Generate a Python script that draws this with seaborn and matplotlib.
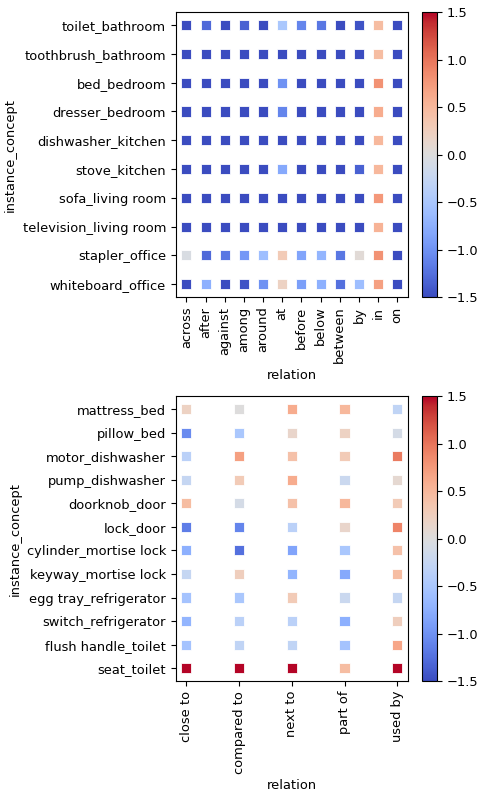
import numpy as np
import pandas as pd
import matplotlib
matplotlib.use("Agg")
import matplotlib.pyplot as plt
import seaborn as sns

plt.rcParams["font.size"] = 9.35

# top panel
rel_top = ["across", "after", "against", "among", "around", "at", "before",
           "below", "between", "by", "in", "on"]
inst_top = ["toilet_bathroom", "toothbrush_bathroom", "bed_bedroom", "dresser_bedroom",
            "dishwasher_kitchen", "stove_kitchen", "sofa_living room",
            "television_living room", "stapler_office", "whiteboard_office"]
toilet_bathroom = [-1.5, -1.3, -1.5, -1.35, -1.5, -0.5, -1.1, -1.2, -1.5, -1.45, 0.45, -1.5]
toothbrush_bathroom = [-1.5, -1.5, -1.5, -1.5, -1.5, -1.5, -1.5, -1.5, -1.5, -1.5, 0.45, -1.5]
bed_bedroom = [-1.5, -1.5, -1.5, -1.5, -1.5, -1.0, -1.5, -1.5, -1.5, -1.5, 0.8, -1.5]
dresser_bedroom = [-1.5, -1.5, -1.5, -1.5, -1.5, -1.1, -1.5, -1.5, -1.5, -1.5, 0.6, -1.5]
dishwasher_kitchen = [-1.5, -1.5, -1.5, -1.5, -1.5, -1.5, -1.5, -1.5, -1.5, -1.5, 0.5, -1.5]
stove_kitchen = [-1.5, -1.5, -1.5, -1.5, -1.5, -0.8, -1.5, -1.5, -1.5, -1.35, 0.5, -1.5]
sofa_living_room = [-1.5, -1.5, -1.5, -1.5, -1.5, -1.5, -1.5, -1.5, -1.5, -1.5, 0.75, -1.5]
television_living_room = [-1.5, -1.5, -1.5, -1.5, -1.5, -1.5, -1.5, -1.5, -1.5, -1.5, 0.55, -1.5]
stapler_office = [-0.05, -1.3, -1.2, -0.95, -0.6, 0.3, -0.85, -0.7, -1.2, 0.05, 0.8, -1.5]
whiteboard_office = [-1.5, -0.75, -1.5, -1.45, -1.0, 0.2, -0.9, -0.75, -1.25, -0.6, 0.7, -1.5]
vals_top = [toilet_bathroom, toothbrush_bathroom, bed_bedroom, dresser_bedroom,
            dishwasher_kitchen, stove_kitchen, sofa_living_room,
            television_living_room, stapler_office, whiteboard_office]

# bottom panel
rel_bot = ["close to", "compared to", "next to", "part of", "used by"]
inst_bot = ["mattress_bed", "pillow_bed", "motor_dishwasher", "pump_dishwasher",
            "doorknob_door", "lock_door", "cylinder_mortise lock", "keyway_mortise lock",
            "egg tray_refrigerator", "switch_refrigerator", "flush handle_toilet",
            "seat_toilet"]
mattress_bed = [0.2, 0.0, 0.6, 0.5, -0.3]
pillow_bed = [-1.05, -0.5, 0.15, 0.2, -0.1]
motor_dishwasher = [-0.35, 0.7, 0.4, 0.3, 0.95]
pump_dishwasher = [-0.25, 0.3, 0.6, -0.2, 0.1]
doorknob_door = [0.45, -0.1, 0.4, 0.5, 0.3]
lock_door = [-1.15, -1.1, -0.35, 0.15, 0.9]
cylinder_mortise_lock = [-0.75, -1.25, -0.85, -0.5, 0.4]
keyway_mortise_lock = [-0.25, 0.25, -0.7, -0.8, 0.45]
egg_tray_refrigerator = [-0.55, -0.5, 0.3, -0.2, -0.25]
switch_refrigerator = [-0.7, -0.35, -0.35, -0.75, 0.25]
flush_handle_toilet = [-0.55, -0.3, -0.3, -0.55, 0.65]
seat_toilet = [1.5, 1.5, 1.5, 0.45, 1.5]
vals_bot = [mattress_bed, pillow_bed, motor_dishwasher, pump_dishwasher, doorknob_door,
            lock_door, cylinder_mortise_lock, keyway_mortise_lock, egg_tray_refrigerator,
            switch_refrigerator, flush_handle_toilet, seat_toilet]


def to_long(insts, rels, vals):
    rows = []
    for inst, row in zip(insts, vals):
        for rel, v in zip(rels, row):
            rows.append({"instance_concept": inst, "relation": rel, "score": v})
    return pd.DataFrame(rows)


norm = plt.Normalize(-1.5, 1.5)
fig = plt.figure(figsize=(4.78, 7.91), dpi=100)

panels = [
    (to_long(inst_top, rel_top, vals_top), [0.368, 0.6245, 0.485, 0.360], [0.883, 0.6245, 0.031, 0.360]),
    (to_long(inst_bot, rel_bot, vals_bot), [0.368, 0.139, 0.485, 0.360], [0.883, 0.139, 0.031, 0.360]),
]

for df, pos, cpos in panels:
    ax = fig.add_axes(pos)
    sns.scatterplot(data=df, x="relation", y="instance_concept", hue="score",
                    palette="coolwarm", hue_norm=norm, marker="s", s=52,
                    legend=False, ax=ax)
    ax.tick_params(axis="x", rotation=90)
    cax = fig.add_axes(cpos)
    sm = plt.cm.ScalarMappable(cmap="coolwarm", norm=norm)
    fig.colorbar(sm, cax=cax, ticks=[-1.5, -1.0, -0.5, 0.0, 0.5, 1.0, 1.5])

fig.savefig("out.png", dpi=100)
